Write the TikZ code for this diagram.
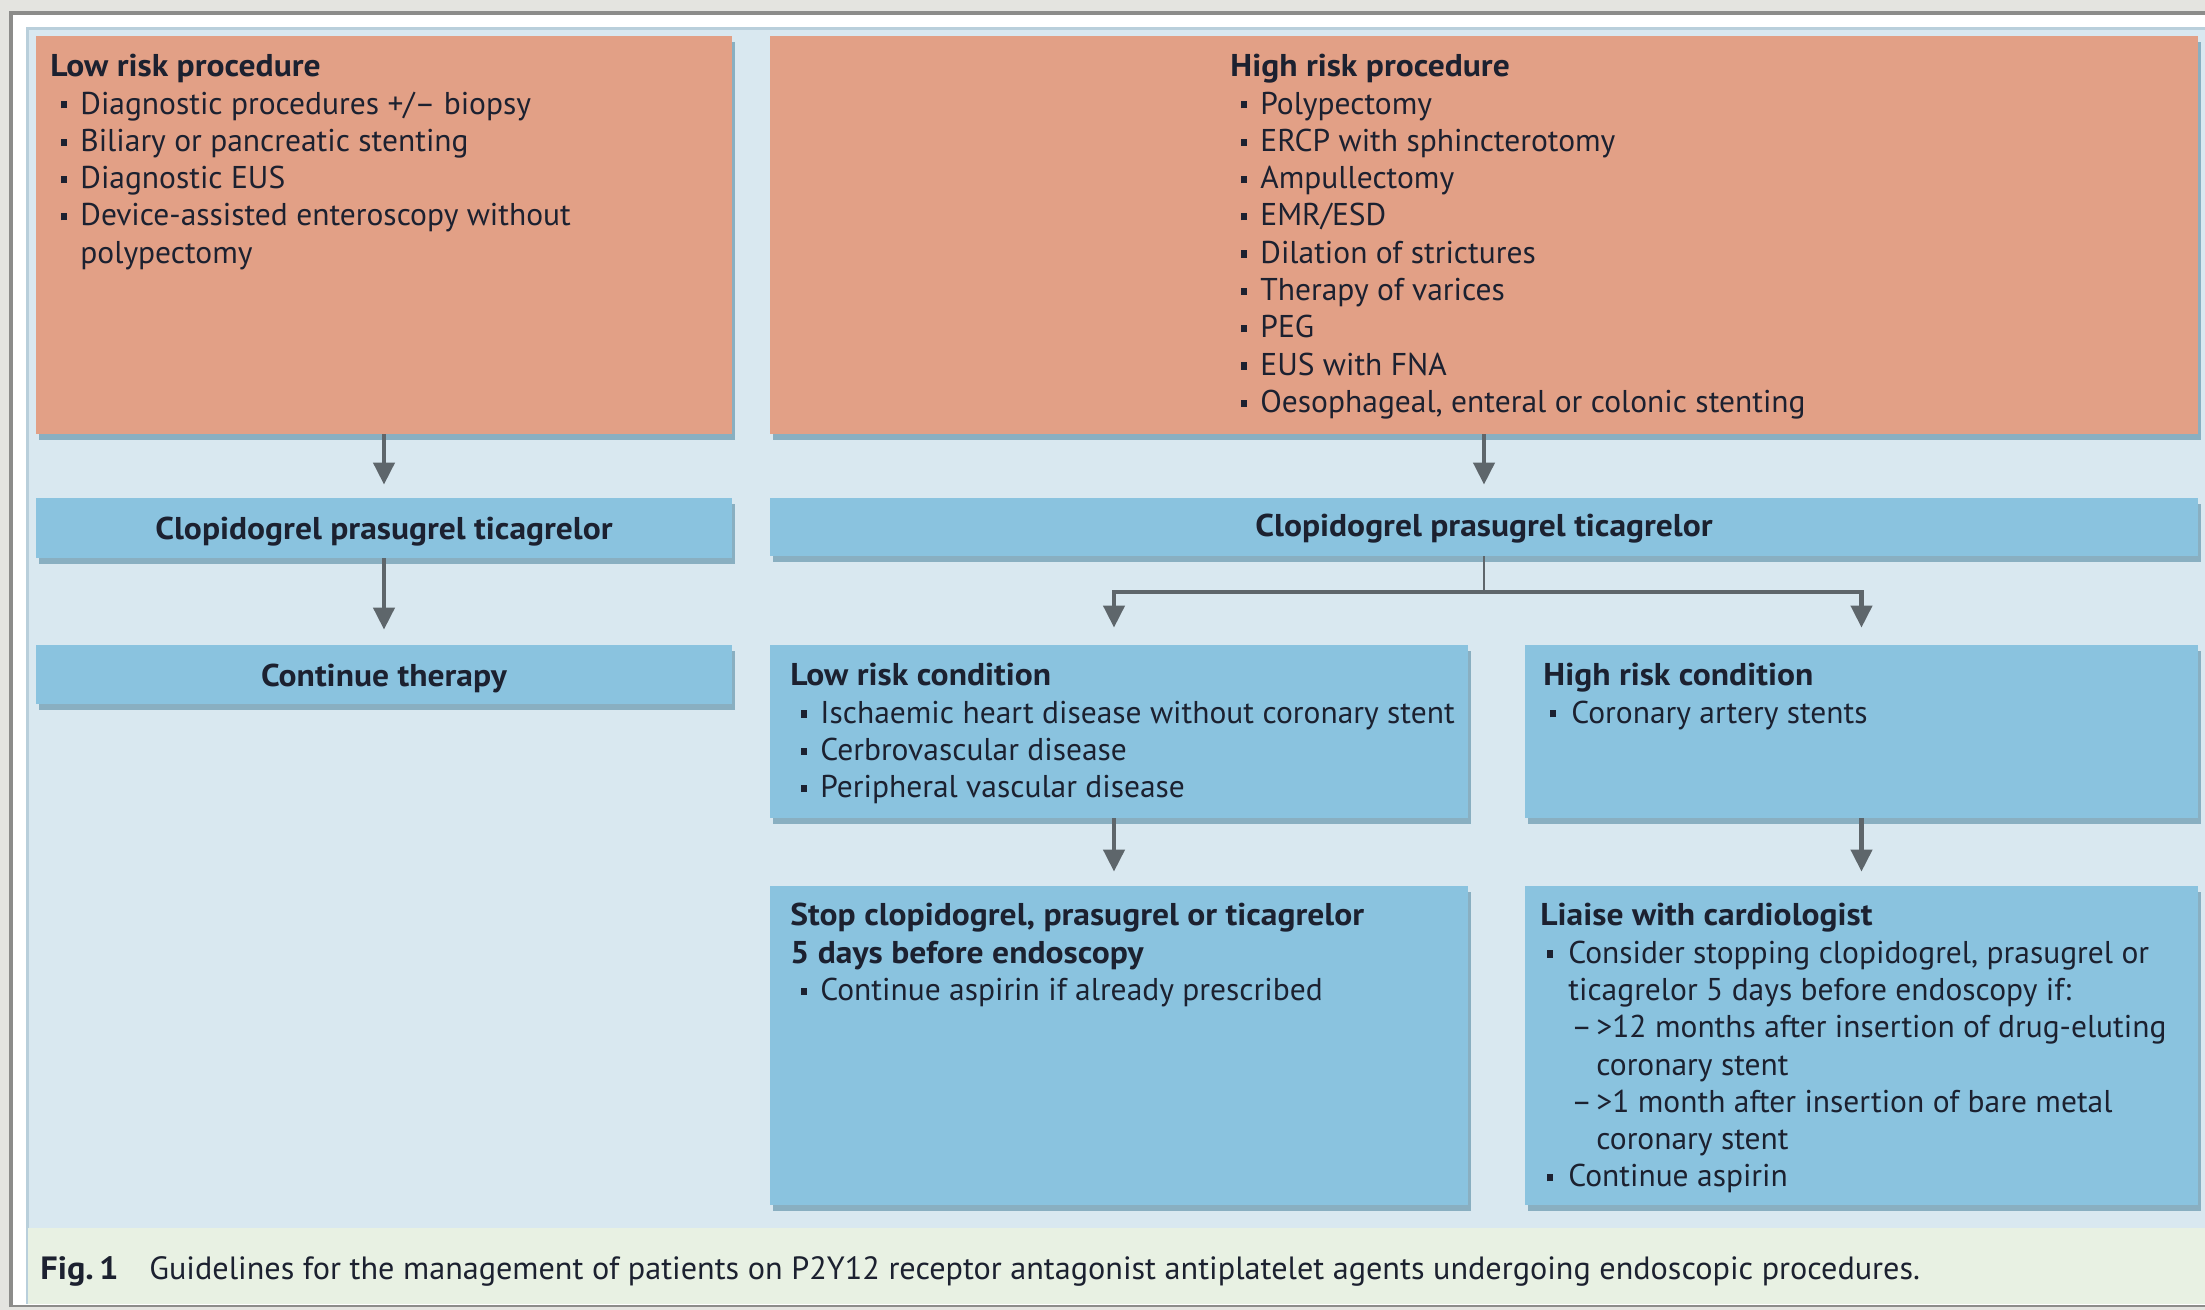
\documentclass[tikz,border=0pt]{standalone}
\usepackage{fontspec}
\setmainfont{PT Sans}[BoldFeatures={FakeStretch=1.065}]
\usetikzlibrary{arrows.meta,fit,shadows}

\definecolor{pagegrey}{HTML}{E4E4E0}
\definecolor{framegrey}{HTML}{8C8C8A}
\definecolor{panelblue}{HTML}{D9E8F0}
\definecolor{paneledge}{HTML}{B9CFDB}
\definecolor{captionband}{HTML}{E8F1E3}
\definecolor{salmon}{HTML}{E2A086}
\definecolor{boxblue}{HTML}{8AC3DF}
\definecolor{shadowcol}{HTML}{6F9CB2}
\definecolor{arrowgrey}{HTML}{5E666B}
\definecolor{inkcol}{HTML}{1C2130}

% bullet square and hanging indents
\newcommand{\bul}{\makebox[15pt][l]{\hspace{5.5pt}\rule[2.8pt]{3pt}{3.6pt}}}
\newcommand{\bulb}{\makebox[14pt][l]{\hspace{3.5pt}\rule[2.8pt]{3pt}{3.6pt}}}
\newcommand{\ind}{\hspace*{15pt}}
\newcommand{\sub}{\makebox[14pt][l]{\hspace{1.5pt}–}}

\tikzset{
  panelbox/.style={inner sep=0pt, draw=none,
    drop shadow={shadow xshift=1.5pt, shadow yshift=-3pt, fill=shadowcol, opacity=.75}},
  procbox/.style={panelbox, fill=salmon},
  bluebox/.style={panelbox, fill=boxblue},
  boxtext/.style={anchor=north west, inner sep=0pt, align=left, text=inkcol,
    font=\fontsize{15.75}{18.65}\selectfont},
  midtext/.style={anchor=center, inner sep=0pt, text=inkcol,
    text height=11pt, text depth=3pt,
    font=\fontsize{15.75}{18.65}\selectfont\bfseries},
  arr/.style={draw=arrowgrey, line width=2.1pt, line join=miter,
    -{Triangle[width=10.5pt,length=11pt]}},
  stem/.style={draw=arrowgrey, line width=1.4pt},
}

\begin{document}
\begin{tikzpicture}[x=0.5pt,y=-0.5pt]
\useasboundingbox (0,0) rectangle (2205,1310);

% page, frame and panels
\fill[pagegrey] (0,0) rectangle (2205,1310);
\fill[white] (11,13) rectangle (2205,1307);
\draw[framegrey, line width=1.6pt] (11,1307) -- (11,13) -- (2205,13);
\draw[framegrey, line width=1pt] (11,1306) -- (2205,1306);
\fill[panelblue] (27,29) rectangle (2205,1228);
\draw[paneledge, line width=1.5pt] (27,1228) -- (27,29) -- (2205,29);
\fill[captionband] (27,1228) rectangle (2205,1304);
\draw[paneledge, line width=1pt] (27,1228) -- (27,1304);

% boxes
\node[procbox, fit={(36,36) (732,434)}] (lowproc) {};
\node[procbox, fit={(770,36) (2198,434)}] (highproc) {};
\node[bluebox, fit={(36,498) (732,558)}] (clopL) {};
\node[bluebox, fit={(770,498) (2198,556)}] (clopR) {};
\node[bluebox, fit={(36,645) (732,704)}] (contL) {};
\node[bluebox, fit={(770,645) (1468,818)}] (lowcond) {};
\node[bluebox, fit={(1525,645) (2198,818)}] (highcond) {};
\node[bluebox, fit={(770,886) (1468,1205)}] (stopbox) {};
\node[bluebox, fit={(1525,886) (2198,1205)}] (liaise) {};

% box texts
\node[boxtext] (lowproctxt) at (50,54) {\textbf{Low risk procedure}\\
\bul Diagnostic procedures +/– biopsy\\
\bul Biliary or pancreatic stenting\\
\bul Diagnostic EUS\\
\bul Device-assisted enteroscopy without\\
\ind polypectomy};

\node[boxtext] (highproctxt) at (1230,54) {\textbf{High risk procedure}\\
\bul Polypectomy\\
\bul ERCP with sphincterotomy\\
\bul Ampullectomy\\
\bul EMR/ESD\\
\bul Dilation of strictures\\
\bul Therapy of varices\\
\bul PEG\\
\bul EUS with FNA\\
\bul Oesophageal, enteral or colonic stenting};

\node[midtext, yshift=-1.5pt] (clopLtxt) at (clopL.center) {Clopidogrel prasugrel ticagrelor};
\node[midtext, yshift=-0.5pt] (clopRtxt) at (clopR.center) {Clopidogrel prasugrel ticagrelor};
\node[midtext, yshift=-2pt] (contLtxt) at (contL.center) {Continue therapy};

\node[boxtext] (lowcondtxt) at (790,663) {\textbf{Low risk condition}\\
\bul Ischaemic heart disease without coronary stent\\
\bul Cerbrovascular disease\\
\bul Peripheral vascular disease};

\node[boxtext] (highcondtxt) at (1543,663) {\textbf{High risk condition}\\
\bulb Coronary artery stents};

\node[boxtext] (stoptxt) at (790,903) {\textbf{Stop clopidogrel, prasugrel or ticagrelor}\\
\textbf{5 days before endoscopy}\\
\bul Continue aspirin if already prescribed};

\node[boxtext] (liaisetxt) at (1540,903) {\textbf{Liaise with cardiologist}\\
\bulb Consider stopping clopidogrel, prasugrel or\\
\hspace*{14pt}ticagrelor 5 days before endoscopy if:\\
\hspace*{14pt}\sub >12 months after insertion of drug-eluting\\
\hspace*{28pt}coronary stent\\
\hspace*{14pt}\sub >1 month after insertion of bare metal\\
\hspace*{28pt}coronary stent\\
\bulb Continue aspirin};

% caption
\node[anchor=base west, inner sep=0pt, text=inkcol,
  font=\fontsize{16.1}{18}\selectfont\bfseries] (figlabel) at (40,1279) {Fig.\,1};
\node[anchor=base west, inner sep=0pt, text=inkcol,
  font=\fontsize{16.1}{18}\selectfont] (caption) at (149,1279)
  {Guidelines for the management of patients on P2Y12 receptor antagonist antiplatelet agents undergoing endoscopic procedures.};

% connectors
\coordinate (fork) at (clopR.south |- 0,592);
\draw[arr, shorten >=6.5pt] (lowproc.south) -- (clopL.north);
\draw[arr, shorten >=7.5pt] (clopL.south) -- (contL.north);
\draw[arr, shorten >=6.5pt] (highproc.south) -- (clopR.north);
\draw[stem] (clopR.south) -- (fork);
\draw[arr, shorten >=8.5pt] (fork) -| ([xshift=-2.5pt]lowcond.north);
\draw[arr, shorten >=8.5pt] (fork) -| (highcond.north);
\draw[arr, shorten >=7pt] ([xshift=-2.5pt]lowcond.south) -- ([xshift=-2.5pt]stopbox.north);
\draw[arr, shorten >=7pt] (highcond.south) -- (liaise.north);
\end{tikzpicture}
\end{document}
